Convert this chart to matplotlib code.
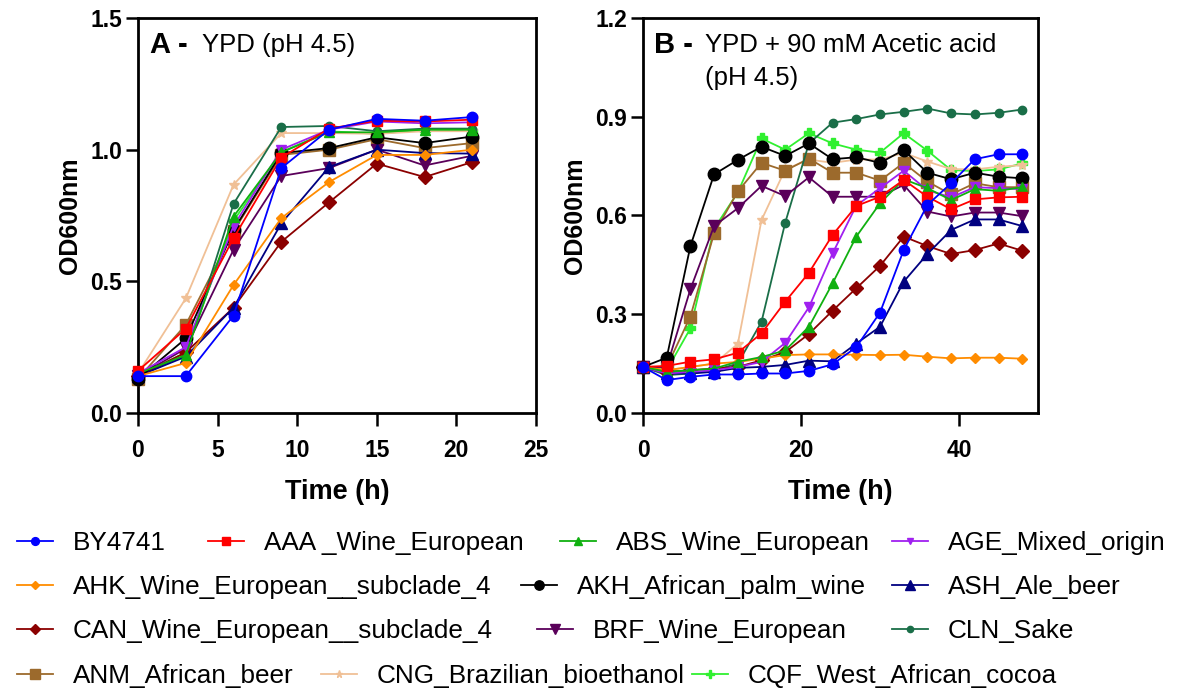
import matplotlib
matplotlib.use("Agg")
import matplotlib.pyplot as plt
from matplotlib.lines import Line2D

plt.rcParams['font.family'] = ['Liberation Sans', 'DejaVu Sans']

# --- strain names, styles ---
strains = ['BY4741', 'AAA _Wine_European', 'ABS_Wine_European', 'AGE_Mixed_origin',
           'AHK_Wine_European__subclade_4', 'AKH_African_palm_wine', 'ASH_Ale_beer',
           'CAN_Wine_European__subclade_4', 'BRF_Wine_European', 'CLN_Sake',
           'ANM_African_beer', 'CNG_Brazilian_bioethanol', 'CQF_West_African_cocoa']
colors = ['#0000ff', '#ff0000', '#10b010', '#a020f0', '#ff8c00', '#000000', '#000080',
          '#8b0000', '#5a005a', '#1a6e48', '#9c6a2c', '#f0c096', '#30f030']
markers = ['o', 's', '^', 'v', 'D', 'o', '^', 'D', 'v', 'o', 's', '*', 'P']
msizes = [7.5, 7, 7, 6.5, 5, 9, 9, 7, 9, 6, 9, 7, 7]

# --- panel A: YPD (pH 4.5) ---
time_a = [0, 3, 6, 9, 12, 15, 18, 21]
od_a = {
    'BY4741': [0.14, 0.14, 0.37, 0.93, 1.076, 1.117, 1.11, 1.124],
    'AAA _Wine_European': [0.16, 0.32, 0.664, 0.97, 1.08, 1.11, 1.107, 1.114],
    'ABS_Wine_European': [0.15, 0.22, 0.746, 0.99, 1.066, 1.066, 1.076, 1.076],
    'AGE_Mixed_origin': [0.15, 0.25, 0.71, 1.0, 1.076, 1.107, 1.10, 1.104],
    'AHK_Wine_European__subclade_4': [0.14, 0.19, 0.486, 0.74, 0.877, 0.98, 0.98, 1.0],
    'AKH_African_palm_wine': [0.13, 0.283, 0.695, 0.987, 1.006, 1.047, 1.025, 1.05],
    'ASH_Ale_beer': [0.14, 0.214, 0.40, 0.72, 0.934, 1.0, 0.987, 0.985],
    'CAN_Wine_European__subclade_4': [0.14, 0.23, 0.40, 0.65, 0.80, 0.947, 0.896, 0.953],
    'BRF_Wine_European': [0.14, 0.245, 0.62, 0.90, 0.93, 1.0, 0.94, 0.977],
    'CLN_Sake': [0.14, 0.22, 0.794, 1.086, 1.09, 1.07, 1.08, 1.08],
    'ANM_African_beer': [0.13, 0.335, 0.69, 0.98, 1.0, 1.04, 1.006, 1.025],
    'CNG_Brazilian_bioethanol': [0.15, 0.435, 0.867, 1.063, 1.063, 1.06, 1.07, 1.07],
    'CQF_West_African_cocoa': [0.14, 0.23, 0.73, 0.99, 1.07, 1.06, 1.076, 1.07],
}

# --- panel B: YPD + 90 mM acetic acid (pH 4.5) ---
time_b = [0, 3, 6, 9, 12, 15, 18, 21, 24, 27, 30, 33, 36, 39, 42, 45, 48]
od_b = {
    'BY4741': [0.14, 0.10, 0.11, 0.117, 0.117, 0.12, 0.12, 0.128, 0.148, 0.20, 0.305,
               0.495, 0.632, 0.698, 0.771, 0.786, 0.786],
    'AAA _Wine_European': [0.14, 0.143, 0.156, 0.163, 0.183, 0.242, 0.338, 0.426, 0.541,
                           0.629, 0.657, 0.708, 0.657, 0.619, 0.649, 0.655, 0.657],
    'ABS_Wine_European': [0.14, 0.125, 0.13, 0.135, 0.156, 0.17, 0.19, 0.262, 0.394,
                          0.536, 0.637, 0.71, 0.683, 0.647, 0.68, 0.675, 0.686],
    'AGE_Mixed_origin': [0.14, 0.12, 0.125, 0.13, 0.14, 0.155, 0.213, 0.321, 0.485,
                         0.63, 0.683, 0.736, 0.677, 0.655, 0.686, 0.683, 0.68],
    'AHK_Wine_European__subclade_4': [0.14, 0.13, 0.14, 0.15, 0.155, 0.165, 0.176, 0.178,
                                      0.178, 0.177, 0.176, 0.177, 0.171, 0.166, 0.168,
                                      0.168, 0.165],
    'AKH_African_palm_wine': [0.14, 0.168, 0.507, 0.725, 0.769, 0.809, 0.781, 0.819, 0.771,
                              0.777, 0.76, 0.799, 0.73, 0.71, 0.73, 0.718, 0.713],
    'ASH_Ale_beer': [0.14, 0.12, 0.12, 0.125, 0.137, 0.14, 0.146, 0.159, 0.157, 0.211,
                     0.262, 0.399, 0.483, 0.556, 0.588, 0.588, 0.568],
    'CAN_Wine_European__subclade_4': [0.14, 0.125, 0.13, 0.135, 0.14, 0.16, 0.185, 0.24,
                                      0.311, 0.379, 0.447, 0.536, 0.507, 0.483, 0.495,
                                      0.515, 0.493],
    'BRF_Wine_European': [0.14, 0.14, 0.376, 0.568, 0.622, 0.69, 0.659, 0.716, 0.657,
                          0.657, 0.657, 0.693, 0.612, 0.597, 0.609, 0.609, 0.598],
    'CLN_Sake': [0.14, 0.115, 0.12, 0.13, 0.15, 0.277, 0.578, 0.819, 0.882, 0.893, 0.907,
                 0.915, 0.925, 0.91, 0.907, 0.912, 0.922],
    'ANM_African_beer': [0.14, 0.14, 0.293, 0.546, 0.673, 0.76, 0.736, 0.773, 0.73, 0.73,
                         0.706, 0.76, 0.703, 0.664, 0.698, 0.686, 0.686],
    'CNG_Brazilian_bioethanol': [0.14, 0.13, 0.14, 0.15, 0.21, 0.586, 0.74, 0.77, 0.76,
                                 0.77, 0.77, 0.79, 0.764, 0.741, 0.74, 0.748, 0.753],
    'CQF_West_African_cocoa': [0.14, 0.13, 0.257, 0.56, 0.67, 0.834, 0.80, 0.85, 0.819,
                               0.80, 0.791, 0.85, 0.797, 0.738, 0.735, 0.74, 0.758],
}

W, H = 1179, 690
fig = plt.figure(figsize=(W / 100, H / 100), dpi=100)
ax_a = fig.add_axes([138 / W, 1 - 413 / H, 398 / W, 395 / H])
ax_b = fig.add_axes([643 / W, 1 - 413 / H, 395 / W, 395 / H])


def style_axis(ax):
    for sp in ax.spines.values():
        sp.set_linewidth(2)
    ax.tick_params(width=1.8, length=9, labelsize=16.5)
    ax.tick_params(axis='x', pad=10)
    ax.tick_params(axis='y', pad=2.5)
    for lab in ax.get_xticklabels() + ax.get_yticklabels():
        lab.set_fontweight('bold')
    ax.set_xlabel('Time (h)', fontsize=19.5, fontweight='bold', labelpad=12)
    ax.set_ylabel('OD600nm', fontsize=18, fontweight='bold', labelpad=6)


n = len(strains)
for i, name in enumerate(strains):
    kw = dict(color=colors[i], marker=markers[i], markersize=msizes[i], lw=1.3,
              zorder=3 + n - i, clip_on=False)
    ax_a.plot(time_a, od_a[name], **kw)
    ax_b.plot(time_b, od_b[name], **kw)

ax_a.set_xlim(0, 25)
ax_a.set_ylim(0, 1.5)
ax_a.set_xticks([0, 5, 10, 15, 20, 25])
ax_a.set_yticks([0.0, 0.5, 1.0, 1.5])
ax_a.set_yticklabels(['0.0', '0.5', '1.0', '1.5'])
style_axis(ax_a)

ax_b.set_xlim(0, 50)
ax_b.set_ylim(0, 1.2)
ax_b.set_xticks([0, 20, 40])
ax_b.set_yticks([0.0, 0.3, 0.6, 0.9, 1.2])
ax_b.set_yticklabels(['0.0', '0.3', '0.6', '0.9', '1.2'])
style_axis(ax_b)

# panel titles
ax_a.text(0.03, 0.932, 'A -', transform=ax_a.transAxes, fontsize=21,
          fontweight='bold', va='center')
ax_a.text(0.16, 0.932, 'YPD (pH 4.5)', transform=ax_a.transAxes, fontsize=18.5,
          va='center')
ax_b.text(0.027, 0.932, 'B -', transform=ax_b.transAxes, fontsize=21,
          fontweight='bold', va='center')
ax_b.text(0.157, 0.932, 'YPD + 90 mM Acetic acid', transform=ax_b.transAxes,
          fontsize=18.5, va='center')
ax_b.text(0.157, 0.848, '(pH 4.5)', transform=ax_b.transAxes, fontsize=18.5,
          va='center')

# legend: flowing rows, each entry placed where its text starts in the original
leg_fs = 18.8
hlen, hpad = 1.4, 0.75
rows = [[0, 1, 2, 3], [4, 5, 6], [7, 8, 9], [10, 11, 12]]
row_y = [543, 587, 631, 676]
text_x = [[73, 264, 616, 948], [73, 577, 948], [73, 593, 948], [73, 377, 748]]
em = leg_fs * 100 / 72
for idx, y, xs in zip(rows, row_y, text_x):
    for i, tx in zip(idx, xs):
        h = Line2D([], [], color=colors[i], marker=markers[i],
                   markersize=msizes[i] * 0.75, lw=1.3)
        x0 = tx - (hlen + hpad) * em
        fig.legend([h], [strains[i]], loc='center left',
                   bbox_to_anchor=(x0 / W, 1 - y / H), frameon=False,
                   fontsize=leg_fs, handlelength=hlen, handletextpad=hpad,
                   borderpad=0, borderaxespad=0)

fig.savefig('out.png', dpi=100)
